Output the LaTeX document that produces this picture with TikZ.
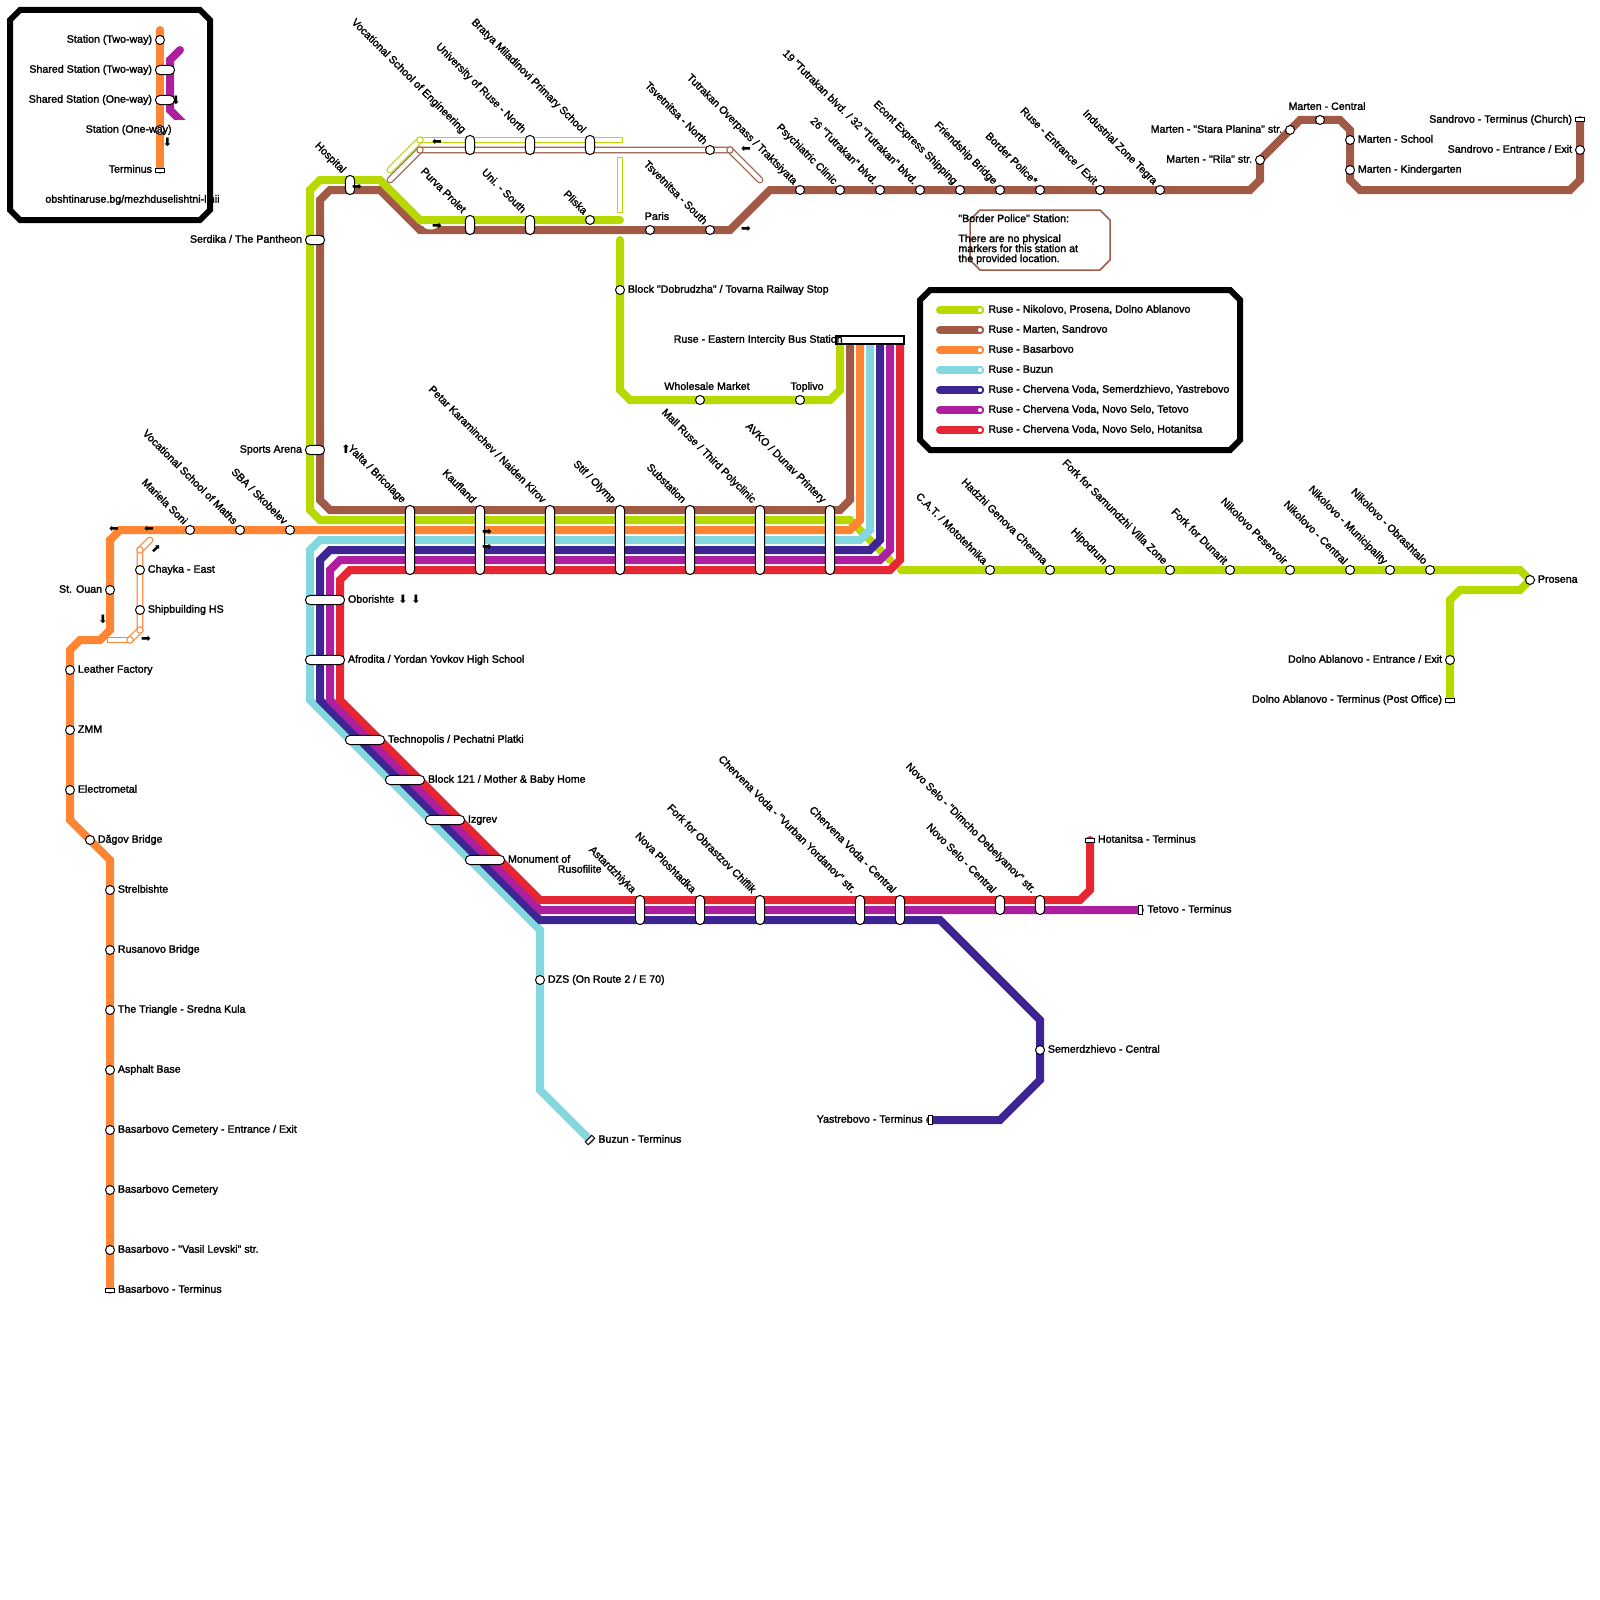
\documentclass[tikz,border=0pt]{standalone}
\usepackage{fontspec}
\usepackage{xcolor}
\usetikzlibrary{positioning}
\newfontfamily\mapfont{Liberation Sans}[FakeBold=1.8]
\newfontfamily\arrowfont{DejaVu Sans}
\definecolor{cLime}{HTML}{B8D900}
\definecolor{cBrown}{HTML}{A05A45}
\definecolor{cOrange}{HTML}{FF8533}
\definecolor{cCyan}{HTML}{82D8DE}
\definecolor{cIndigo}{HTML}{3F2594}
\definecolor{cPurple}{HTML}{AD1F9E}
\definecolor{cRed}{HTML}{E62733}
\tikzset{
  route/.style={line width=4pt, line cap=round},
  ghost/.style={draw=#1, line width=.6pt, double=white, double distance=2.2pt, line cap=round},
  ghostend/.style={ghost=#1, line cap=rect},
  boxln/.style={draw=black, fill=white, line width=3pt},
  stn/.style={circle, draw=black, fill=white, line width=.5pt, minimum size=4.5pt, inner sep=0pt, outer sep=0pt},
  jct/.style={circle, draw=#1, fill=white, line width=.5pt, minimum size=3.2pt, inner sep=0pt},
  keyend/.style={circle, draw=#1, fill=white, line width=.9pt, minimum size=3.2pt, inner sep=0pt},
  pill/.style={draw=black, fill=white, line width=.5pt, rounded corners=2.3pt, inner sep=0pt, outer sep=0pt},
  vpill/.style={pill, minimum width=4.6pt, minimum height=#1},
  hpill/.style={pill, minimum height=4.6pt, minimum width=#1},
  term/.style={draw=black, fill=white, line width=.5pt, inner sep=0pt, outer sep=0pt, minimum width=4.6pt, minimum height=2pt},
  lbl/.style={font=\mapfont\fontsize{5.33}{5}\selectfont, inner sep=0pt, text height=3.8pt, text depth=1.1pt},
  rotlbl/.style={lbl, rotate=-45, anchor=east},
  onew/.style={font=\arrowfont\fontsize{5.8}{6}\selectfont, inner sep=0pt},
}
\newcommand{\rlbl}[2]{\node[rotlbl] (#1-l) at ([shift={(-1.5,-3.5)}]#1.north west) {#2};}

\begin{document}
\begin{tikzpicture}[x=0.5pt, y=-0.5pt]
  \useasboundingbox (0,0) rectangle (1600,1600);

  % key, top left
  \draw[boxln] (20,10) -- (200,10) -- (210,20) -- (210,210) -- (200,220) -- (20,220) -- (10,210) -- (10,20) -- cycle;
  \begin{scope}
    \clip (160,40) rectangle (190,120);
    \draw[route, cPurple] (180,50) -- (170,60) -- (170,110) -- (190,130);
  \end{scope}
  \draw[route, cOrange] (160,30) -- (160,170);
  \node[stn] (keya) at (160,40) {};
  \node[hpill=9.6pt] (keyb) at (165,70) {};
  \node[hpill=9.6pt] (keyc) at (165,100) {};
  \node[stn] (keyd) at (160,130) {};
  \node[term] (keye) at (160,170) {};
  \node[lbl, left=1.5pt of keya] (keya-l) {Station (Two-way)};
  \node[lbl, left=1.5pt of keyb] (keyb-l) {Shared Station (Two-way)};
  \node[lbl, left=1.5pt of keyc] (keyc-l) {Shared Station (One-way)};
  \node[lbl, anchor=east] (keyd-l) at (172,130) {Station (One-way)};
  \node[lbl, left=1.5pt of keye] (keye-l) {Terminus};
  \node[lbl] (keyurl) at (132.5,200) {obshtinaruse.bg/mezhduselishtni-linii};
  \node[onew] (keyc-a) at (176,100) {⬇};
  \node[onew] (keyd-a) at (167.5,142) {⬇};

  % key of the lines
  \draw[boxln] (930,290) -- (1230,290) -- (1240,300) -- (1240,440) -- (1230,450) -- (930,450) -- (920,440) -- (920,300) -- cycle;
  \foreach \lc/\ly/\lt in {cLime/310/{Ruse - Nikolovo, Prosena, Dolno Ablanovo},
    cBrown/330/{Ruse - Marten, Sandrovo},
    cOrange/350/{Ruse - Basarbovo},
    cCyan/370/{Ruse - Buzun},
    cIndigo/390/{Ruse - Chervena Voda, Semerdzhievo, Yastrebovo},
    cPurple/410/{Ruse - Chervena Voda, Novo Selo, Tetovo},
    cRed/430/{Ruse - Chervena Voda, Novo Selo, Hotanitsa}} {
    \draw[route, \lc] (940,\ly) -- (980,\ly) node[keyend=\lc] (line\ly) {};
    \node[lbl, anchor=west] (line\ly-l) at (988,\ly) {\lt};
  }

  % one-way branches
  \draw[ghost=cBrown] (390,180) -- (420,150) -- (730,150) -- (760,180);
  \draw[ghost=cLime] (390,170) -- (420,140);
  \draw[ghostend=cLime] (423,140) -- (620,140);
  \draw[ghostend=cLime] (620,160) -- (620,210);
  \draw[ghost=cOrange] (150,540) -- (140,550) -- (140,630) -- (130,640);
  \draw[ghostend=cOrange] (128,640) -- (110,640);
  \node[jct=cBrown] (jb1) at (420,150) {};
  \node[jct=cBrown] (jb2) at (730,150) {};
  \node[jct=cLime] (jl1) at (420,140) {};
  \node[jct=cOrange] (jo1) at (140,550) {};
  \node[jct=cOrange] (jo2) at (140,630) {};
  \node[jct=cOrange] (jo3) at (130,640) {};

  % routes
  \draw[route, cBrown] (850,340) -- (850,500) -- (840,510) -- (330,510) -- (320,500) -- (320,200) -- (330,190) -- (380,190) -- (420,230) -- (730,230) -- (770,190) -- (1250,190) -- (1260,180) -- (1260,160) -- (1300,120) -- (1340,120) -- (1350,130) -- (1350,180) -- (1360,190) -- (1570,190) -- (1580,180) -- (1580,120);
  \fill[white] (430.5,225) ellipse (7.5 and 4.5);
  \draw[route, cLime] (620,220) -- (420,220) -- (380,180) -- (320,180) -- (310,190) -- (310,510) -- (320,520) -- (850,520) -- (890,560);
  \draw[route, cLime] (901,570) -- (1520,570) -- (1530,580) -- (1520,590) -- (1460,590) -- (1450,600) -- (1450,700);
  \draw[route, cLime] (620,240) -- (620,390) -- (630,400) -- (830,400) -- (840,390) -- (840,340);
  \draw[route, cOrange] (860,340) -- (860,520) -- (850,530) -- (120,530) -- (110,540) -- (110,630) -- (100,640) -- (80,640) -- (70,650) -- (70,820) -- (110,860) -- (110,1290);
  \draw[route, cCyan] (870,340) -- (870,530) -- (860,540) -- (320,540) -- (310,550) -- (310,700) -- (540,930) -- (540,1090) -- (590,1140);
  \draw[route, cIndigo] (880,340) -- (880,540) -- (870,550) -- (330,550) -- (320,560) -- (320,700) -- (540,920) -- (940,920) -- (1040,1020) -- (1040,1080) -- (1000,1120) -- (930,1120);
  \draw[route, cPurple] (890,340) -- (890,550) -- (880,560) -- (340,560) -- (330,570) -- (330,700) -- (540,910) -- (1140,910);
  \draw[route, cRed] (900,340) -- (900,560) -- (890,570) -- (350,570) -- (340,580) -- (340,700) -- (540,900) -- (1080,900) -- (1090,890) -- (1090,840);

  % note
  \draw[cBrown, line width=.75pt] (980,210) -- (1100,210) -- (1110,220) -- (1110,260) -- (1100,270) -- (980,270) -- (970,260) -- (970,220) -- cycle;
  \node[font=\mapfont\fontsize{5.33}{5}\selectfont, inner sep=0pt, align=left, anchor=north west] (note) at (958,214) {"Border Police" Station:\\[5pt]There are no physical\\markers for this station at\\the provided location.};

  % Nikolovo line
  \node[vpill=9.6pt] (hospital) at (350,185) {};
  \rlbl{hospital}{Hospital}
  \node[hpill=9.6pt] (serdika) at (315,240) {};
  \node[lbl, left=1.5pt of serdika] (serdika-l) {Serdika / The Pantheon};
  \node[hpill=9.6pt] (sports) at (315,450) {};
  \node[lbl, left=1.5pt of sports] (sports-l) {Sports Arena};
  \node[vpill=9.6pt] (purva) at (470,225) {};
  \rlbl{purva}{Purva Prolet}
  \node[vpill=9.6pt] (unis) at (530,225) {};
  \rlbl{unis}{Uni. - South}
  \node[stn] (pliska) at (590,220) {};
  \rlbl{pliska}{Pliska}
  \node[vpill=9.6pt] (vsen) at (470,145) {};
  \rlbl{vsen}{Vocational School of Engineering}
  \node[vpill=9.6pt] (unin) at (530,145) {};
  \rlbl{unin}{University of Ruse - North}
  \node[vpill=9.6pt] (bratya) at (590,145) {};
  \rlbl{bratya}{Bratya Miladinovi Primary School}
  \node[stn] (block) at (620,290) {};
  \node[lbl, right=1.5pt of block] (block-l) {Block "Dobrudzha" / Tovarna Railway Stop};
  \node[stn] (whole) at (700,400) {};
  \node[lbl, above=1.5pt of whole, xshift=3.5pt] (whole-l) {Wholesale Market};
  \node[stn] (toplivo) at (800,400) {};
  \node[lbl, above=1.5pt of toplivo, xshift=3.5pt] (toplivo-l) {Toplivo};
  \node[stn] (cat) at (990,570) {};
  \rlbl{cat}{C.A.T. / Mototehnika}
  \node[stn] (hadzhi) at (1050,570) {};
  \rlbl{hadzhi}{Hadzhi Genova Chesma}
  \node[stn] (hipo) at (1110,570) {};
  \rlbl{hipo}{Hipodrum}
  \node[stn] (forksam) at (1170,570) {};
  \rlbl{forksam}{Fork for Samundzhi Villa Zone}
  \node[stn] (forkdun) at (1230,570) {};
  \rlbl{forkdun}{Fork for Dunarit}
  \node[stn] (nikpes) at (1290,570) {};
  \rlbl{nikpes}{Nikolovo Peservoir}
  \node[stn] (nikcen) at (1350,570) {};
  \rlbl{nikcen}{Nikolovo - Central}
  \node[stn] (nikmun) at (1390,570) {};
  \rlbl{nikmun}{Nikolovo - Municipality}
  \node[stn] (nikobr) at (1430,570) {};
  \rlbl{nikobr}{Nikolovo - Obrashtalo}
  \node[stn] (prosena) at (1530,580) {};
  \node[lbl, right=1.5pt of prosena] (prosena-l) {Prosena};
  \node[stn] (dolnoe) at (1450,660) {};
  \node[lbl, left=1.5pt of dolnoe] (dolnoe-l) {Dolno Ablanovo - Entrance / Exit};
  \node[term] (dolnot) at (1450,700) {};
  \node[lbl, left=1.5pt of dolnot] (dolnot-l) {Dolno Ablanovo - Terminus (Post Office)};

  % Marten line
  \node[stn] (paris) at (650,230) {};
  \node[lbl, above=1.5pt of paris, xshift=3.5pt] (paris-l) {Paris};
  \node[stn] (tsvs) at (710,230) {};
  \rlbl{tsvs}{Tsvetnitsa - South}
  \node[stn] (tsvn) at (710,150) {};
  \rlbl{tsvn}{Tsvetnitsa - North}
  \node[stn] (overpass) at (800,190) {};
  \rlbl{overpass}{Tutrakan Overpass / Traktsiyata}
  \node[stn] (psych) at (840,190) {};
  \rlbl{psych}{Psychiatric Clinic}
  \node[stn] (tut26) at (880,190) {};
  \rlbl{tut26}{26 "Tutrakan" blvd.}
  \node[stn] (tut19) at (920,190) {};
  \rlbl{tut19}{19 "Tutrakan blvd. / 32 "Tutrakan" blvd.}
  \node[stn] (econt) at (960,190) {};
  \rlbl{econt}{Econt Express Shipping}
  \node[stn] (friend) at (1000,190) {};
  \rlbl{friend}{Friendship Bridge}
  \node[stn] (border) at (1040,190) {};
  \rlbl{border}{Border Police*}
  \node[stn] (ruseee) at (1100,190) {};
  \rlbl{ruseee}{Ruse - Entrance / Exit}
  \node[stn] (tegra) at (1160,190) {};
  \rlbl{tegra}{Industrial Zone Tegra}
  \node[stn] (rila) at (1260,160) {};
  \node[lbl, left=1.5pt of rila] (rila-l) {Marten - "Rila" str.};
  \node[stn] (stara) at (1290,130) {};
  \node[lbl, left=1.5pt of stara] (stara-l) {Marten - "Stara Planina" str.};
  \node[stn] (martenc) at (1320,120) {};
  \node[lbl, above=1.5pt of martenc, xshift=3.5pt] (martenc-l) {Marten - Central};
  \node[stn] (martens) at (1350,140) {};
  \node[lbl, right=1.5pt of martens] (martens-l) {Marten - School};
  \node[stn] (martenk) at (1350,170) {};
  \node[lbl, right=1.5pt of martenk] (martenk-l) {Marten - Kindergarten};
  \node[stn] (sandre) at (1580,150) {};
  \node[lbl, left=1.5pt of sandre] (sandre-l) {Sandrovo - Entrance / Exit};
  \node[term] (sandrt) at (1580,120) {};
  \node[lbl, left=1.5pt of sandrt] (sandrt-l) {Sandrovo - Terminus (Church)};

  % Basarbovo line
  \node[stn] (mariela) at (190,530) {};
  \rlbl{mariela}{Mariela Soni}
  \node[stn] (vsm) at (240,530) {};
  \rlbl{vsm}{Vocational School of Maths}
  \node[stn] (sba) at (290,530) {};
  \rlbl{sba}{SBA / Skobelev}
  \node[stn] (ouan) at (110,590) {};
  \node[lbl, left=1.5pt of ouan] (ouan-l) {St. Ouan};
  \node[stn] (chayka) at (140,570) {};
  \node[lbl, right=1.5pt of chayka] (chayka-l) {Chayka - East};
  \node[stn] (shipb) at (140,610) {};
  \node[lbl, right=1.5pt of shipb] (shipb-l) {Shipbuilding HS};
  \node[stn] (leather) at (70,670) {};
  \node[lbl, right=1.5pt of leather] (leather-l) {Leather Factory};
  \node[stn] (zmm) at (70,730) {};
  \node[lbl, right=1.5pt of zmm] (zmm-l) {ZMM};
  \node[stn] (electro) at (70,790) {};
  \node[lbl, right=1.5pt of electro] (electro-l) {Electrometal};
  \node[stn] (dagov) at (90,840) {};
  \node[lbl, right=1.5pt of dagov] (dagov-l) {Dăgov Bridge};
  \node[stn] (strel) at (110,890) {};
  \node[lbl, right=1.5pt of strel] (strel-l) {Strelbishte};
  \node[stn] (rusan) at (110,950) {};
  \node[lbl, right=1.5pt of rusan] (rusan-l) {Rusanovo Bridge};
  \node[stn] (triangle) at (110,1010) {};
  \node[lbl, right=1.5pt of triangle] (triangle-l) {The Triangle - Sredna Kula};
  \node[stn] (asphalt) at (110,1070) {};
  \node[lbl, right=1.5pt of asphalt] (asphalt-l) {Asphalt Base};
  \node[stn] (basce) at (110,1130) {};
  \node[lbl, right=1.5pt of basce] (basce-l) {Basarbovo Cemetery - Entrance / Exit};
  \node[stn] (basc) at (110,1190) {};
  \node[lbl, right=1.5pt of basc] (basc-l) {Basarbovo Cemetery};
  \node[stn] (basv) at (110,1250) {};
  \node[lbl, right=1.5pt of basv] (basv-l) {Basarbovo - "Vasil Levski" str.};
  \node[term] (bast) at (110,1290) {};
  \node[lbl, right=1.5pt of bast] (bast-l) {Basarbovo - Terminus};

  % trunk
  \node[draw=black, fill=white, line width=1pt, inner sep=0pt, outer sep=0pt, minimum width=34pt, minimum height=4pt] (bus) at (870,340) {};
  \node[lbl, left=-3.5pt of bus] (bus-l) {Ruse - Eastern Intercity Bus Station};
  \node[vpill=34.6pt] (yalta) at (410,540) {};
  \rlbl{yalta}{Yalta / Bricolage}
  \node[vpill=34.6pt] (kaufland) at (480,540) {};
  \rlbl{kaufland}{Kaufland}
  \node[vpill=34.6pt] (petar) at (550,540) {};
  \rlbl{petar}{Petar Karaminchev / Naiden Kirov}
  \node[vpill=34.6pt] (stif) at (620,540) {};
  \rlbl{stif}{Stif / Olymp}
  \node[vpill=34.6pt] (subst) at (690,540) {};
  \rlbl{subst}{Substation}
  \node[vpill=34.6pt] (mall) at (760,540) {};
  \rlbl{mall}{Mall Ruse / Third Polyclinic}
  \node[vpill=34.6pt] (avko) at (830,540) {};
  \rlbl{avko}{AVKO / Dunav Printery}
  \node[hpill=19.6pt] (obor) at (325,600) {};
  \node[lbl, right=1.5pt of obor] (obor-l) {Oborishte};
  \node[hpill=19.6pt] (afrod) at (325,660) {};
  \node[lbl, right=1.5pt of afrod] (afrod-l) {Afrodita / Yordan Yovkov High School};
  \node[hpill=19.6pt] (techno) at (365,740) {};
  \node[lbl, right=1.5pt of techno] (techno-l) {Technopolis / Pechatni Platki};
  \node[hpill=19.6pt] (block121) at (405,780) {};
  \node[lbl, right=1.5pt of block121] (block121-l) {Block 121 / Mother \& Baby Home};
  \node[hpill=19.6pt] (izgrev) at (445,820) {};
  \node[lbl, right=1.5pt of izgrev] (izgrev-l) {Izgrev};
  \node[hpill=19.6pt] (monument) at (485,860) {};
  \node[lbl, right=1.5pt of monument] (monument-l) {Monument of};
  \node[lbl, anchor=east] (monument-m) at (602,870) {Rusofilite};

  % Buzun, Chervena Voda and beyond
  \node[stn] (dzs) at (540,980) {};
  \node[lbl, right=1.5pt of dzs] (dzs-l) {DZS (On Route 2 / E 70)};
  \node[term, rotate=45] (buzun) at (590,1140) {};
  \node[lbl, anchor=west] (buzun-l) at (598,1140) {Buzun - Terminus};
  \node[vpill=14.6pt] (astar) at (640,910) {};
  \rlbl{astar}{Astardzhiyka}
  \node[vpill=14.6pt] (nova) at (700,910) {};
  \rlbl{nova}{Nova Ploshtadka}
  \node[vpill=14.6pt] (obras) at (760,910) {};
  \rlbl{obras}{Fork for Obrastzov Chiflik}
  \node[vpill=14.6pt] (chvur) at (860,910) {};
  \rlbl{chvur}{Chervena Voda - "Vurban Yordanov" str.}
  \node[vpill=14.6pt] (chcen) at (900,910) {};
  \rlbl{chcen}{Chervena Voda - Central}
  \node[vpill=9.6pt] (nscen) at (1000,905) {};
  \rlbl{nscen}{Novo Selo - Central}
  \node[vpill=9.6pt] (nsdim) at (1040,905) {};
  \rlbl{nsdim}{Novo Selo - "Dimcho Debelyanov" str.}
  \node[term] (hotan) at (1090,840) {};
  \node[lbl, right=1.5pt of hotan] (hotan-l) {Hotanitsa - Terminus};
  \node[term, minimum width=2pt, minimum height=4.6pt] (tetovo) at (1140,910) {};
  \node[lbl, right=2.5pt of tetovo] (tetovo-l) {Tetovo - Terminus};
  \node[stn] (semer) at (1040,1050) {};
  \node[lbl, right=1.5pt of semer] (semer-l) {Semerdzhievo - Central};
  \node[term, minimum width=2pt, minimum height=4.6pt] (yastr) at (930,1120) {};
  \node[lbl, left=2.5pt of yastr] (yastr-l) {Yastrebovo - Terminus};

  % one-way arrows
  \node[onew] (a1) at (357,187) {➡};
  \node[onew] (a2) at (437,142) {⬅};
  \node[onew] (a3) at (437,226) {➡};
  \node[onew] (a4) at (746,229) {➡};
  \node[onew] (a5) at (746,149) {⬅};
  \node[onew] (a6) at (346,449) {⬆};
  \node[onew] (a7) at (487,532) {➡};
  \node[onew] (a8) at (487,547) {➡};
  \node[onew] (a9) at (403,599) {⬇};
  \node[onew] (a10) at (416,599) {⬇};
  \node[onew] (a11) at (114,529) {⬅};
  \node[onew] (a12) at (149,529) {⬅};
  \node[onew] (a13) at (156,549) {⬈};
  \node[onew] (a14) at (103,619) {⬇};
  \node[onew] (a15) at (146,639) {➡};
\end{tikzpicture}
\end{document}
